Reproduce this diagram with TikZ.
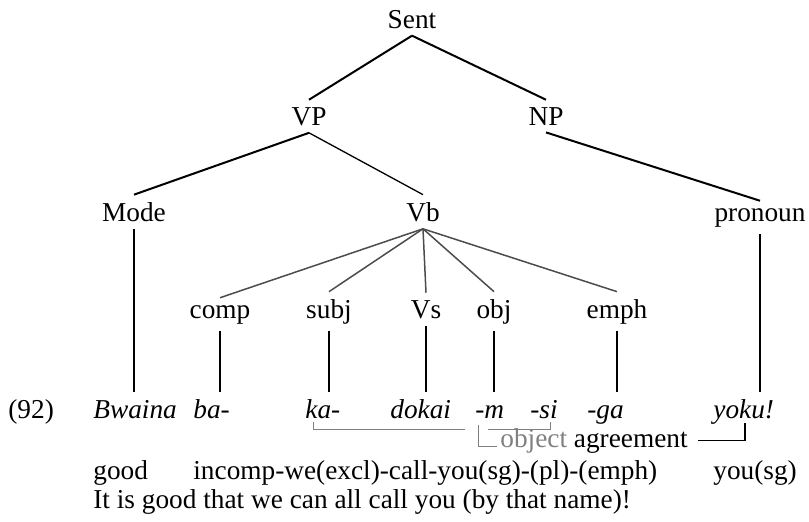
\documentclass[tikz,border=0pt]{standalone}
\usepackage{fontspec}
\setmainfont{Liberation Serif}
\usetikzlibrary{positioning}

\definecolor{fangray}{gray}{0.3}
\definecolor{agrgray}{gray}{0.5}

\tikzset{
  lbl/.style={anchor=base, inner sep=3.5pt, font=\fontsize{13.65}{16}\selectfont},
  gloss/.style={lbl, anchor=base west, inner xsep=0pt},
  word/.style={gloss, font=\fontsize{13.65}{16}\selectfont\itshape},
  branch/.style={black, line width=1pt},
  fan/.style={fangray, line width=0.75pt},
  drop/.style={black, line width=1pt},
  link/.style={agrgray, line width=0.5pt}
}

\begin{document}
\begin{tikzpicture}[x=0.5pt, y=-0.5pt]
  \useasboundingbox (0,0) rectangle (809,521);
  % Tree labels
  \node[lbl] (sent) at (412,28) {Sent};
  \node[lbl] (vp) at (309,125) {VP};
  \node[lbl] (np) at (546,125) {NP};
  \node[lbl] (mode) at (134,221) {Mode};
  \node[lbl] (vb) at (423,221) {Vb};
  \node[lbl] (pron) at (760,221) {pronoun};
  \node[lbl] (comp) at (220,318) {comp};
  \node[lbl] (subj) at (329,318) {subj};
  \node[lbl] (vs) at (426,318) {Vs};
  \node[lbl] (obj) at (494,318) {obj};
  \node[lbl] (emph) at (617,318) {emph};
  % Example sentence
  \node[gloss] (num) at (8,418) {(92)};
  \node[word] (bwaina) at (93,418) {Bwaina};
  \node[word] (ba) at (193,418) {ba-};
  \node[word] (ka) at (305,418) {ka-};
  \node[word] (dokai) at (390,418) {dokai};
  \node[word] (m) at (475,418) {-m};
  \node[word] (si) at (530,418) {-si};
  \node[word] (ga) at (587,418) {-ga};
  \node[word] (yoku) at (713,418) {yoku!};
  % Gloss and translation
  \node[gloss] (good) at (93,479) {good};
  \node[gloss] (incomp) at (193,479) {incomp-we(excl)-call-you(sg)-(pl)-(emph)};
  \node[gloss] (yousg) at (713,479) {you(sg)};
  \node[gloss] (transl) at (93,508) {It is good that we can all call you (by that name)!};
  % Agreement note
  \node[gloss] (agree) at (500,447) {\textcolor{agrgray}{object} agreement};

  % Upper branches
  \draw[branch] (sent.south) -- (vp.north);
  \draw[branch] (sent.south) -- (np.north);
  \draw[branch] (vp.south) -- (mode.north);
  \draw[branch, line width=0.65pt] (vp.south) -- (vb.north);
  \draw[branch] (np.south) -- (pron.north);
  % Vb fan
  \foreach \n in {comp,subj,vs,obj,emph}
    \draw[fan] (vb.south) -- (\n.north);
  % Drops to the morphemes
  \foreach \n in {mode,comp,subj,vs,obj,emph,pron}
    \draw[drop] (\n.south) -- (\n.south |- yoku.north);

  % Bracket ka- ... -si
  \coordinate (kafoot) at (313,422);
  \coordinate (gapl) at (465,429);
  \coordinate (gapr) at (488,429);
  \coordinate (sifoot) at (550,422);
  \draw[link] (kafoot) |- (gapl);
  \draw[link] (gapr) -| (sifoot);
  % -m to the note
  \coordinate (mfoot) at (478,425);
  \coordinate (mend) at (497,446);
  \draw[link] (mfoot) |- (mend);
  % note to yoku!
  \coordinate (yokufoot) at (745,423);
  \draw[black, line width=0.8pt] ([xshift=5pt]agree.east) -| (yokufoot);
\end{tikzpicture}
\end{document}
